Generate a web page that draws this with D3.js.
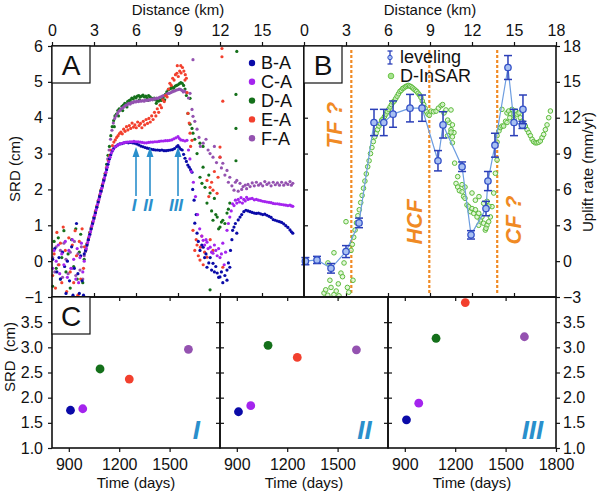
<!DOCTYPE html>
<html>
<head>
<meta charset="utf-8">
<script src="https://cdn.jsdelivr.net/npm/d3@7"></script>
<style>
  body { margin: 0; background: #fff; }
  svg text { font-family: "Liberation Sans", Arial, sans-serif; }
</style>
</head>
<body>
<svg id="chart" width="603" height="497"></svg>
<script>
// ---- panel A : SRD (cm) versus distance (km), one array per pair ----
const seriesNames = ["B-A", "C-A", "D-A", "E-A", "F-A"];
const seriesColors = ["#0a0aa8", "#a424ee", "#14701a", "#f2402e", "#9452b0"];

const srdBA = [[0.05,0.05],[0.2,0.35],[0.35,-0.3],[0.5,0.1],[0.6,-0.5],[0.75,0.25],[0.9,-0.15],[1.0,-0.9],[1.1,0.0],[1.25,-0.55],[1.4,0.4],[1.5,-0.95],[1.6,-0.2],[1.75,1.05],[1.85,-0.35],[1.95,-0.9],[2.05,0.15],[2.15,-0.55],[2.25,-0.95],[2.3,0.2],
  [2.4,0.3],[2.5,0.45],[2.6,0.6],[2.7,0.75],[2.8,0.9],[2.9,1.05],[3.0,1.2],[3.1,1.35],[3.2,1.5],[3.3,1.65],[3.4,1.8],[3.5,1.95],[3.6,2.1],[3.7,2.25],[3.8,2.4],[3.9,2.55],[4.0,2.7],[4.1,2.85],[4.2,2.97],[4.3,3.07],[4.4,3.14],[4.55,3.2],[4.7,3.24],[4.85,3.27],[5.0,3.28],[5.15,3.3],[5.3,3.31],[5.45,3.3],[5.6,3.31],[5.75,3.3],[5.9,3.29],[6.05,3.27],[6.2,3.24],
  [6.35,3.21],[6.5,3.19],[6.65,3.17],[6.8,3.15],[6.95,3.14],[7.1,3.12],[7.25,3.11],[7.4,3.1],[7.55,3.1],[7.7,3.09],[7.85,3.1],[8.0,3.08],[8.15,3.08],[8.3,3.09],[8.45,3.1],[8.6,3.11],[8.75,3.14],[8.9,3.19],[9.0,3.22],[9.1,3.17],[9.2,3.12],[9.3,3.1],[9.4,2.98],[9.5,2.87],
  [9.6,2.78],[9.7,2.68],[9.8,2.62],[9.9,2.55],[10.0,2.48],[10.05,2.0],[10.15,1.7],[10.2,1.06],[10.3,1.3],[10.36,0.78],[10.45,0.55],[10.57,0.3],[10.7,0.45],[10.8,0.39],[10.9,0.1],[11.0,0.2],[11.07,-0.17],[11.2,-0.05],[11.3,0.1],[11.4,-0.25],[11.5,-0.06],[11.6,-0.3],[11.7,-0.15],[11.8,-0.33],[11.9,-0.45],[12.0,-0.44],[12.1,-0.3],[12.2,-0.6],[12.35,-0.4],[12.5,-0.53],[12.5,-0.25],[12.6,-0.05],[12.7,-0.17],[12.75,0.3],[12.85,0.6],[12.9,0.86],[13.0,0.95],[13.1,1.05],[13.2,0.78],[13.3,1.15],[13.43,1.23],
  [13.55,1.3],[13.7,1.38],[13.85,1.42],[14.0,1.4],[14.15,1.38],[14.3,1.36],[14.45,1.34],[14.6,1.33],[14.75,1.34],[14.9,1.32],[15.05,1.3],[15.2,1.31],[15.35,1.28],[15.5,1.25],[15.65,1.22],[15.8,1.16],[15.95,1.14],[16.1,1.12],[16.25,1.1],[16.4,1.08],[16.55,1.04],[16.7,0.99],[16.85,0.94],[17.0,0.87],[17.1,0.82],[17.2,0.78]];

const srdCA = [[0.05,-0.2],[0.15,0.3],[0.3,0.0],[0.45,0.45],[0.55,-0.35],[0.7,0.2],[0.85,-0.1],[0.95,0.55],[1.1,-0.45],[1.2,0.3],[1.35,-0.2],[1.45,0.6],[1.55,0.05],[1.7,-0.5],[1.8,0.35],[1.9,-0.6],[2.0,0.1],[2.1,0.5],[2.2,-0.3],[2.3,0.0],
  [2.45,0.35],[2.55,0.52],[2.65,0.68],[2.75,0.82],[2.85,0.98],[2.95,1.12],[3.05,1.28],[3.15,1.43],[3.25,1.58],[3.35,1.72],[3.45,1.88],[3.55,2.03],[3.65,2.18],[3.75,2.32],[3.85,2.48],[3.95,2.62],[4.05,2.77],[4.15,2.9],[4.25,3.02],[4.35,3.1],[4.5,3.18],[4.65,3.22],[4.8,3.26],[4.95,3.28],
  [5.1,3.3],[5.25,3.31],[5.4,3.32],[5.55,3.33],[5.7,3.33],[5.85,3.34],[6.0,3.33],[6.15,3.33],[6.3,3.32],[6.45,3.31],[6.6,3.3],[6.75,3.3],[6.9,3.31],[7.05,3.32],[7.2,3.32],[7.35,3.33],[7.5,3.33],[7.65,3.34],[7.8,3.35],[7.95,3.35],[8.1,3.36],[8.25,3.36],[8.4,3.37],[8.55,3.38],[8.7,3.41],[8.85,3.44],[9.0,3.47],[9.1,3.42],[9.2,3.38],[9.35,3.37],[9.5,3.35],[9.64,3.37],
  [9.75,3.1],[9.85,2.85],[9.95,2.5],[10.1,2.2],[10.25,1.8],[10.4,1.3],[10.55,0.9],[10.7,0.7],[10.8,0.58],[10.9,0.45],[11.0,0.6],[11.07,0.53],[11.15,0.35],[11.3,0.39],[11.4,0.25],[11.5,0.22],[11.6,0.45],[11.7,0.3],[11.8,0.15],[11.9,0.35],[12.0,0.1],[12.1,0.2],[12.2,0.5],[12.3,-0.1],[12.4,0.25],[12.5,0.86],[12.6,1.05],[12.7,1.23],[12.8,1.4],[12.9,1.6],
  [13.0,1.55],[13.1,1.7],[13.2,1.62],[13.3,1.72],[13.4,1.65],[13.5,1.77],[13.6,1.62],[13.7,1.72],[13.8,1.68],[13.9,1.78],[14.0,1.72],[14.15,1.74],[14.3,1.75],[14.45,1.71],[14.6,1.72],[14.75,1.7],[14.9,1.69],[15.05,1.67],[15.2,1.66],[15.35,1.65],[15.5,1.64],[15.65,1.63],[15.8,1.61],[15.95,1.6],[16.1,1.6],[16.25,1.59],[16.4,1.58],[16.55,1.57],[16.7,1.56],[16.85,1.55],[17.0,1.56],[17.1,1.54],[17.2,1.53]];

const srdDA = [[0.05,-0.7],[0.15,0.55],[0.3,-0.2],[0.45,0.65],[0.6,-0.5],[0.7,0.1],[0.85,0.85],[1.0,-0.3],[1.15,0.2],[1.3,-0.75],[1.4,0.6],[1.55,-0.15],[1.7,0.9],[1.8,-0.5],[1.95,0.25],[2.05,0.75],[2.2,-0.6],[2.3,0.05],
  [2.4,0.28],[2.5,0.48],[2.6,0.62],[2.7,0.8],[2.8,0.93],[2.9,1.08],[3.0,1.22],[3.1,1.38],[3.2,1.52],[3.3,1.68],[3.4,1.82],[3.5,1.98],[3.6,2.12],[3.7,2.28],[3.8,2.45],[3.9,2.7],[4.0,2.95],[4.1,3.2],[4.2,3.5],[4.3,3.75],[4.4,3.92],[4.5,4.05],[4.6,4.1],[4.7,4.2],[4.8,4.25],[4.9,4.22],[5.0,4.32],[5.1,4.35],[5.2,4.4],[5.3,4.38],[5.4,4.45],[5.5,4.48],[5.6,4.5],[5.7,4.55],[5.8,4.52],[5.9,4.58],[6.0,4.55],[6.1,4.6],[6.2,4.62],[6.3,4.58],[6.4,4.6],[6.5,4.63],[6.6,4.58],[6.7,4.6],[6.8,4.55],[6.9,4.62],[7.0,4.58],[7.1,4.55],[7.2,4.52],[7.3,4.55],[7.4,4.5],[7.5,4.48],[7.6,4.46],[7.7,4.5],[7.8,4.48],[7.9,4.55],[8.0,4.6],[8.1,4.65],[8.2,4.72],[8.3,4.78],[8.4,4.8],[8.5,4.82],[8.6,4.85],[8.7,4.83],[8.8,4.88],[8.9,4.9],[9.0,4.92],[9.1,4.95],[9.2,4.98],[9.3,4.96],[9.4,4.9],
  [4.45,3.75],[4.75,4.05],[5.05,4.2],[5.35,4.3],[5.65,4.42],[6.25,4.5],[6.85,4.48],[7.45,4.4],[8.05,4.5],[8.65,4.75],
  [9.5,4.8],[9.6,4.62],[9.71,4.12],[9.86,4.54],[9.86,3.82],[10.0,3.7],[10.07,3.57],[10.2,3.4],[10.36,3.0],[10.57,3.29],[10.57,2.34],[10.71,2.17],[10.79,3.2],[10.79,2.62],[10.93,2.06],[11.07,1.62],[11.2,2.4],[11.29,1.9],[11.4,1.4],[11.5,1.14],[11.6,1.75],[11.7,1.3],[11.8,1.23],[11.9,0.9],[12.0,0.95],[12.1,1.09],[12.2,1.14],[12.35,1.05],[12.5,1.34],[12.6,1.45],[12.7,1.62],[11.29,-0.8],[13.14,2.8],[13.14,3.7],[13.14,4.65],[13.2,5.85]];

const srdEA = [[0.05,-0.4],[0.15,0.2],[0.25,-0.75],[0.35,0.8],[0.5,-0.1],[0.6,0.5],[0.7,-0.6],[0.8,0.95],[0.95,0.3],[1.05,-0.85],[1.2,0.65],[1.3,-0.3],[1.45,0.45],[1.55,-0.6],[1.65,0.85],[1.75,0.15],[1.85,-0.95],[1.95,0.55],[2.05,-0.5],[2.15,0.9],[2.25,-0.2],[2.32,0.4],
  [2.42,0.32],[2.52,0.5],[2.62,0.65],[2.72,0.8],[2.82,0.96],[2.92,1.1],[3.02,1.25],[3.12,1.4],[3.22,1.55],[3.32,1.7],[3.42,1.85],[3.52,2.0],[3.62,2.15],[3.72,2.3],[3.82,2.45],[3.92,2.62],[4.02,2.8],[4.12,2.95],[4.22,3.1],[4.32,3.22],[4.42,3.32],[4.52,3.38],[4.62,3.45],[4.72,3.5],[4.82,3.56],[4.92,3.6],[5.02,3.55],[5.12,3.68],[5.22,3.62],[5.32,3.75],[5.42,3.66],[5.52,3.78],[5.62,3.7],[5.72,3.85],[5.82,3.74],[5.92,3.8],[6.02,3.72],[6.12,3.88],[6.22,3.78],[6.32,3.84],[6.42,3.72],[6.52,3.9],[6.62,3.8],[6.72,3.95],[6.82,3.84],[6.92,3.98],[7.02,3.88],[7.12,4.05],[7.22,3.95],[7.32,4.15],[7.42,4.05],[7.52,4.25],[7.62,4.15],[7.72,4.35],[7.82,4.28],[7.92,4.5],[8.02,4.45],[8.12,4.62],[8.22,4.58],[8.32,4.8],[8.42,4.96],[8.52,4.9],[8.62,5.1],[8.72,5.05],[8.82,5.2],[8.92,5.24],[9.02,5.15],[9.12,5.3],[9.22,5.25],[9.32,5.4],[9.42,5.3],[9.52,5.2],[9.6,5.1],[8.95,5.45],[9.2,5.45],[9.5,5.05],
  [9.65,4.7],[9.71,4.12],[9.8,3.85],[9.86,3.57],[9.9,3.2],[10.0,3.37],[10.07,0.86],[10.2,0.3],[10.3,0.6],[10.36,0.45],[10.45,0.15],[10.57,0.03],[10.6,0.39],[10.8,-0.1],[10.9,0.25],[11.07,0.11],[11.07,2.25],[11.2,1.8],[11.29,2.06],[11.4,2.2],[11.5,1.98],[11.5,0.3],[11.6,2.5],[11.79,1.89],[11.86,2.34],[12.0,2.9],[12.0,3.18],[12.2,-0.17],[12.14,5.93],[12.14,5.7],[12.2,4.46],[11.3,0.6],[10.7,0.7]];

const srdFA = [[0.05,0.1],[0.2,-0.3],[0.3,0.4],[0.45,-0.1],[0.6,0.3],[0.75,-0.45],[0.85,0.5],[1.0,0.05],[1.15,-0.35],[1.3,0.25],[1.45,-0.2],[1.6,0.55],[1.7,-0.4],[1.85,0.2],[2.0,-0.25],[2.1,0.4],[2.2,-0.5],[2.3,0.15],
  [2.38,0.26],[2.48,0.42],[2.58,0.58],[2.68,0.72],[2.78,0.88],[2.88,1.03],[2.98,1.17],[3.08,1.32],[3.18,1.48],[3.28,1.62],[3.38,1.77],[3.48,1.92],[3.58,2.06],[3.68,2.22],[3.78,2.38],[3.88,2.6],[3.98,2.85],[4.08,3.1],[4.18,3.4],[4.28,3.65],[4.38,3.85],[4.48,3.98],[4.58,4.05],[4.68,4.12],[4.78,4.18],[4.88,4.22],[4.98,4.26],[5.08,4.28],[5.18,4.32],[5.28,4.35],[5.38,4.36],[5.48,4.4],[5.58,4.38],[5.68,4.42],[5.78,4.42],[5.88,4.45],[5.98,4.44],[6.08,4.46],[6.18,4.45],[6.28,4.47],[6.38,4.46],[6.48,4.48],[6.58,4.46],[6.68,4.5],[6.78,4.48],[6.88,4.5],[6.98,4.49],[7.08,4.52],[7.18,4.5],[7.28,4.53],[7.38,4.52],[7.48,4.55],[7.58,4.54],[7.68,4.57],[7.78,4.58],[7.88,4.6],[7.98,4.62],[8.08,4.62],[8.18,4.65],[8.28,4.68],[8.38,4.68],[8.48,4.7],[8.58,4.72],[8.68,4.74],[8.78,4.75],[8.88,4.77],[8.98,4.78],[9.08,4.8],[9.18,4.79],[9.28,4.76],[9.38,4.72],[9.48,4.74],[9.6,4.7],
  [9.86,4.68],[9.75,4.55],[10.0,4.23],[10.07,4.04],[10.07,5.62],[10.2,3.9],[10.36,3.68],[10.5,3.45],[10.6,3.2],[10.8,3.29],[11.0,3.4],[11.15,3.1],[11.29,3.0],[11.5,2.9],[11.6,3.2],[11.75,2.75],[12.0,2.9],[12.1,2.6],[12.2,2.73],[12.35,2.4],[12.5,2.53],[12.6,2.2],[12.7,2.34],[12.85,2.1],[13.0,1.98],[13.1,2.2],[13.2,2.25],
  [13.3,1.95],[13.43,2.17],[13.55,2.0],[13.65,2.08],[13.8,2.12],[13.9,2.02],[14.0,2.14],[14.15,2.08],[14.3,2.18],[14.45,2.1],[14.6,2.2],[14.75,2.12],[14.9,2.16],[15.05,2.1],[15.2,2.22],[15.35,2.14],[15.5,2.18],[15.65,2.1],[15.8,2.2],[15.95,2.13],[16.1,2.18],[16.25,2.12],[16.4,2.2],[16.55,2.12],[16.7,2.18],[16.85,2.14],[17.0,2.22],[17.1,2.12],[17.2,2.17]];

const arrowKm = [6.0, 7.0, 9.0];
const romans = ["I", "II", "III"];

// ---- panel B : uplift rate (mm/yr) ----
// leveling: [km, rate, error]
const leveling = [[0.1,0.0,0.3],[0.93,0.1,0.3],[1.93,-0.6,0.4],[3.0,0.8,0.5],[3.93,3.2,0.4],[5.0,11.6,1.1],[5.7,11.6,1.1],[6.36,12.3,1.1],[7.57,12.8,1.15],[8.43,12.8,1.1],[9.57,8.4,0.85],[9.93,11.4,1.1],[11.29,7.9,0.4],[11.93,2.2,0.35],[13.0,4.4,0.6],[13.14,6.7,0.8],[13.64,9.7,1.0],[14.57,16.2,1.0],[15.0,11.6,1.1],[15.6,11.4,0.3],[15.64,12.7,1.2]];

const insar = [[1.43,-2.67],[1.55,-2.4],[1.7,-2.85],[1.93,-2.2],[2.14,-2.8],[2.3,-2.5],[2.5,-2.9],[2.64,-1.0],[2.75,-1.3],[2.86,-0.15],[2.14,0.7],[1.71,-0.15],[3.0,3.3],[3.2,-2.6],[3.5,-1.6],[2.45,-1.9],[1.85,-1.6],[3.1,-2.2],
  [3.36,0.9],[3.45,1.4],[3.55,2.0],[3.65,2.6],[3.75,3.2],[3.85,3.8],[3.95,4.3],[4.05,4.9],[4.15,5.5],[4.25,6.1],[4.35,6.7],[4.45,7.3],[4.55,7.9],[4.65,8.4],[4.75,9.0],[4.85,9.5],[4.95,10.0],[5.05,10.4],[5.15,10.7],[5.25,11.0],[5.35,11.3],[5.45,11.5],[5.55,11.8],[5.65,11.9],[5.75,12.1],[5.85,12.3],[5.95,12.5],[6.05,12.7],[6.15,12.9],[6.25,13.1],[6.35,13.3],[6.45,13.4],[6.55,13.6],[6.65,13.8],[6.75,14.0],[6.85,14.2],[6.95,14.3],[7.05,14.45],[7.15,14.5],[7.25,14.6],[7.35,14.65],[7.45,14.7],[7.55,14.65],[7.65,14.6],[7.75,14.5],[7.85,14.4],[7.95,14.3],[8.05,14.2],[8.15,14.05],[8.25,13.9],[8.35,13.7],[8.45,13.4],[8.55,13.1],[8.65,12.8],[8.75,12.5],[8.85,12.3],[8.95,12.2],
  [9.07,12.55],[9.25,12.5],[9.43,12.55],[9.6,12.8],[9.79,13.0],[9.9,13.1],[10.0,12.4],[10.14,12.65],[10.5,12.65],[10.36,11.6],[10.26,11.8],[10.5,11.0],[10.26,10.5],[10.71,10.75],[10.6,9.9],[10.6,11.4],[10.5,10.8],[10.6,10.4],
  [10.76,8.2],[10.86,6.5],[10.98,6.2],[11.1,5.9],[11.29,5.8],[11.4,5.4],[11.5,5.26],[11.64,4.7],[11.76,4.56],[11.88,4.14],[12.0,4.4],[12.12,4.0],[12.24,4.3],[12.36,3.7],[12.48,4.0],[12.6,3.45],[12.71,3.7],[12.83,3.17],[12.95,2.6],[13.07,3.0],[13.19,3.3],[13.31,3.7],[13.43,4.56],[13.55,5.7],[13.67,7.35],[13.79,8.46],
  [10.98,7.07],[11.29,6.4],[11.5,6.2],[12.0,5.7],[12.24,5.1],[12.5,5.4],[12.83,4.84],[13.07,5.0],[13.2,4.6],[12.48,3.0],[13.0,2.75],
  [13.79,10.5],[13.93,10.9],[14.02,11.17],[14.14,11.3],[14.26,11.3],[14.4,11.7],[14.5,12.4],[14.62,12.56],[14.76,12.3],[14.86,12.7],[15.0,12.3],[15.1,12.55],[15.21,12.3],[15.36,12.4],[15.45,12.0],[15.57,11.7],[15.7,11.4],[15.81,11.3],[15.93,11.0],[16.05,10.75],[16.17,10.5],[16.29,10.2],[16.4,10.0],[16.52,9.9],[16.64,9.9],[16.76,9.95],[16.88,10.05],[17.0,10.33],[17.12,10.6],[17.24,11.0],[17.36,11.4],[17.48,12.0],[17.6,12.56],
  [14.14,12.7],[14.5,11.6],[14.7,12.0],[13.79,9.96],[15.0,11.9]];

const faultKm = [3.38, 8.95, 13.8];
const faultNames = ["TF ?", "HCF", "CF ?"];

// ---- panel C : SRD at arrows I, II, III versus time (days) ----
const cDays = [910, 983, 1086, 1260, 1612];
const srdI = [1.75, 1.78, 2.57, 2.37, 2.96];
const srdII = [1.72, 1.84, 3.04, 2.80, 2.95];
const srdIII = [1.56, 1.89, 3.18, 3.89, 3.21];

// ---------------------------------------------------------------
const svg = d3.select("#chart");
const FONT = '"Liberation Sans", Arial, sans-serif';
const top0 = 46, mid = 297, bot = 448;
const ink = "#111";
const cyan = "#2a8fcc";
const orange = "#f08a24";

const xA = d3.scaleLinear().domain([0, 18]).range([52, 304]);
const yA = d3.scaleLinear().domain([-1, 6]).range([mid, top0]);
const xB = d3.scaleLinear().domain([0, 18]).range([304, 556]);
const yB = d3.scaleLinear().domain([-3, 18]).range([mid, top0]);
const yC = d3.scaleLinear().domain([1, 4]).range([bot, mid]);
const cEdges = [52, 220, 388, 556];

function styleAxis(g, size) {
  g.attr("font-family", FONT).attr("font-size", size || 16);
  g.select(".domain").remove();
  g.selectAll(".tick line").attr("stroke", ink).attr("stroke-width", 1.2);
  g.selectAll(".tick text").attr("fill", ink);
}

// ---- panel A ----
svg.append("g").attr("transform", `translate(0,${top0})`)
  .call(d3.axisTop(xA).tickValues([0, 3, 6, 9, 12, 15]).tickSize(4).tickPadding(6))
  .call(styleAxis);
svg.append("g").attr("transform", `translate(52,0)`)
  .call(d3.axisLeft(yA).ticks(8).tickSize(4).tickPadding(5))
  .call(styleAxis);
svg.append("g").attr("transform", `translate(0,${mid})`)
  .call(d3.axisBottom(xA).tickValues([3, 6, 9, 12, 15]).tickSize(-4).tickFormat(""))
  .call(styleAxis);

svg.append("text").attr("x", xA(9)).attr("y", 15).attr("text-anchor", "middle")
  .attr("font-size", 15).attr("fill", ink).text("Distance (km)");
svg.append("text").attr("transform", "translate(20,169) rotate(-90)")
  .attr("text-anchor", "middle").attr("font-size", 15).attr("fill", ink).text("SRD (cm)");

const allSrd = [srdBA, srdCA, srdDA, srdEA, srdFA];
const drawOrder = [2, 4, 3, 0, 1];
const gA = svg.append("g");
drawOrder.forEach(i => {
  gA.append("g").selectAll("circle").data(allSrd[i]).join("circle")
    .attr("cx", d => xA(d[0])).attr("cy", d => yA(d[1]))
    .attr("r", 1.6).attr("fill", seriesColors[i]);
});

// arrows I II III
const gArr = svg.append("g");
arrowKm.forEach((k, i) => {
  const x = xA(k);
  gArr.append("line").attr("x1", x).attr("x2", x).attr("y1", 196).attr("y2", 155)
    .attr("stroke", cyan).attr("stroke-width", 1.6);
  gArr.append("path").attr("d", `M${x - 3.5},157 L${x},147 L${x + 3.5},157 Z`).attr("fill", cyan);
  gArr.append("text").attr("x", x - 2).attr("y", 211).attr("text-anchor", "middle")
    .attr("font-size", 17).attr("font-style", "italic").attr("font-weight", "bold")
    .attr("fill", cyan).text(romans[i]);
});

// legend A
const legA = svg.append("g");
seriesNames.forEach((n, i) => {
  const y = 63 + i * 18.8;
  legA.append("circle").attr("cx", 252).attr("cy", y).attr("r", 3.2).attr("fill", seriesColors[i]);
  legA.append("text").attr("x", 261).attr("y", y).attr("dy", "0.36em")
    .attr("font-size", 18).attr("fill", ink).text(n);
});

// ---- panel B ----
svg.append("g").attr("transform", `translate(0,${top0})`)
  .call(d3.axisTop(xB).tickValues(d3.range(0, 19, 3)).tickSize(4).tickPadding(6))
  .call(styleAxis);
svg.append("g").attr("transform", `translate(556,0)`)
  .call(d3.axisRight(yB).tickValues(d3.range(-3, 19, 3)).tickSize(4).tickPadding(3))
  .call(styleAxis);
svg.append("g").attr("transform", `translate(304,0)`)
  .call(d3.axisRight(yB).tickValues(d3.range(0, 18, 3)).tickSize(4).tickFormat(""))
  .call(styleAxis);
svg.append("g").attr("transform", `translate(0,${mid})`)
  .call(d3.axisBottom(xB).tickValues([3, 6, 9, 12, 15]).tickSize(-4).tickFormat(""))
  .call(styleAxis);

svg.append("text").attr("x", xB(9)).attr("y", 15).attr("text-anchor", "middle")
  .attr("font-size", 15).attr("fill", ink).text("Distance (km)");
svg.append("text").attr("transform", "translate(593,172) rotate(-90)")
  .attr("text-anchor", "middle").attr("font-size", 15).attr("fill", ink).text("Uplift rate (mm/yr)");

// fault lines
faultKm.forEach(k => {
  svg.append("line").attr("x1", xB(k)).attr("x2", xB(k)).attr("y1", 50).attr("y2", 293)
    .attr("stroke", orange).attr("stroke-width", 2.2).attr("stroke-dasharray", "3,2");
});
const faultLab = [[342, 125], [422, 222], [521, 220]];
faultNames.forEach((n, i) => {
  svg.append("text").attr("transform", `translate(${faultLab[i][0]},${faultLab[i][1]}) rotate(-90)`)
    .attr("text-anchor", "middle").attr("font-size", 22).attr("font-weight", "bold")
    .attr("font-style", "italic").attr("fill", orange).text(n);
});

// D-InSAR
svg.append("g").selectAll("circle").data(insar).join("circle")
  .attr("cx", d => xB(d[0])).attr("cy", d => yB(d[1])).attr("r", 2.3)
  .attr("fill", "#d9f3cc").attr("fill-opacity", 0.7)
  .attr("stroke", "#5cbb3c").attr("stroke-width", 1);

// leveling
const levColor = "#2b3fb8";
svg.append("path").datum(leveling)
  .attr("d", d3.line().x(d => xB(d[0])).y(d => yB(d[1])))
  .attr("fill", "none").attr("stroke", "#6d9de0").attr("stroke-width", 1.2);
const gLev = svg.append("g").selectAll("g").data(leveling).join("g");
gLev.append("line").attr("x1", d => xB(d[0])).attr("x2", d => xB(d[0]))
  .attr("y1", d => yB(d[1] - d[2])).attr("y2", d => yB(d[1] + d[2]))
  .attr("stroke", levColor).attr("stroke-width", 1.5);
[-1, 1].forEach(s => {
  gLev.append("line").attr("x1", d => xB(d[0]) - 4).attr("x2", d => xB(d[0]) + 4)
    .attr("y1", d => yB(d[1] + s * d[2])).attr("y2", d => yB(d[1] + s * d[2]))
    .attr("stroke", levColor).attr("stroke-width", 1.5);
});
gLev.append("circle").attr("cx", d => xB(d[0])).attr("cy", d => yB(d[1])).attr("r", 3.2)
  .attr("fill", "#a8c0f2").attr("stroke", "#3552c8").attr("stroke-width", 1.3);

// legend B
svg.append("line").attr("x1", 390).attr("x2", 390).attr("y1", 51).attr("y2", 64).attr("stroke", levColor).attr("stroke-width", 1.3);
svg.append("line").attr("x1", 387.5).attr("x2", 392.5).attr("y1", 51).attr("y2", 51).attr("stroke", levColor).attr("stroke-width", 1.3);
svg.append("line").attr("x1", 387.5).attr("x2", 392.5).attr("y1", 64).attr("y2", 64).attr("stroke", levColor).attr("stroke-width", 1.3);
svg.append("circle").attr("cx", 390).attr("cy", 57.5).attr("r", 2.2).attr("fill", "#a8c0f2").attr("stroke", "#3552c8");
svg.append("text").attr("x", 400).attr("y", 57).attr("dy", "0.36em").attr("font-size", 18).attr("fill", ink).text("leveling");
svg.append("circle").attr("cx", 391).attr("cy", 76).attr("r", 2.8).attr("fill", "#a6e28f").attr("stroke", "#6cc54a");
svg.append("text").attr("x", 400).attr("y", 75.5).attr("dy", "0.36em").attr("font-size", 18).attr("fill", ink).text("D-InSAR");

// ---- panel C ----
const cSets = [srdI, srdII, srdIII];
cSets.forEach((vals, p) => {
  const xC = d3.scaleLinear().domain([800, 1800]).range([cEdges[p], cEdges[p + 1]]);
  const ticks = p < 2 ? [900, 1200, 1500] : [900, 1200, 1500, 1800];
  svg.append("g").attr("transform", `translate(0,${bot})`)
    .call(d3.axisBottom(xC).tickValues(ticks).tickSize(4).tickPadding(7).tickFormat(d3.format("d")))
    .call(styleAxis);
  svg.append("g").attr("transform", `translate(0,${mid})`)
    .call(d3.axisTop(xC).tickValues([900, 1200, 1500]).tickSize(-4).tickFormat(""))
    .call(styleAxis);
  svg.append("text").attr("x", xC(1300)).attr("y", 488).attr("text-anchor", "middle")
    .attr("font-size", 15).attr("fill", ink).text("Time (days)");

  svg.append("g").selectAll("circle").data(vals).join("circle")
    .attr("cx", (d, i) => xC(cDays[i])).attr("cy", d => yC(d)).attr("r", 4.4)
    .attr("fill", (d, i) => seriesColors[i]);

  svg.append("text").attr("x", xC(1660)).attr("y", 439).attr("text-anchor", "middle")
    .attr("font-size", 26).attr("font-style", "italic").attr("font-weight", "bold")
    .attr("fill", cyan).text(romans[p]);
});

const cTicks = [1.5, 2.0, 2.5, 3.0, 3.5];
svg.append("g").attr("transform", `translate(52,0)`)
  .call(d3.axisLeft(yC).tickValues([1.0, 1.5, 2.0, 2.5, 3.0, 3.5]).tickSize(4).tickPadding(5).tickFormat(d3.format(".1f")))
  .call(styleAxis);
svg.append("g").attr("transform", `translate(556,0)`)
  .call(d3.axisRight(yC).tickValues([1.0, 1.5, 2.0, 2.5, 3.0, 3.5]).tickSize(4).tickPadding(3).tickFormat(d3.format(".1f")))
  .call(styleAxis);
[220, 388].forEach(x => {
  svg.append("g").attr("transform", `translate(${x},0)`)
    .call(d3.axisLeft(yC).tickValues(cTicks).tickSize(4).tickFormat("")).call(styleAxis);
  svg.append("g").attr("transform", `translate(${x},0)`)
    .call(d3.axisRight(yC).tickValues(cTicks).tickSize(4).tickFormat("")).call(styleAxis);
});
svg.append("text").attr("transform", "translate(15,357) rotate(-90)")
  .attr("text-anchor", "middle").attr("font-size", 15).attr("fill", ink)
  .style("white-space", "pre").text("SRD  (cm)");

// ---- frames and panel letters ----
const frames = [[52, top0, 304, mid], [304, top0, 556, mid], [52, mid, 220, bot], [220, mid, 388, bot], [388, mid, 556, bot]];
frames.forEach(f => {
  svg.append("rect").attr("x", f[0]).attr("y", f[1]).attr("width", f[2] - f[0]).attr("height", f[3] - f[1])
    .attr("fill", "none").attr("stroke", ink).attr("stroke-width", 1.6);
});
[["A", 52, top0], ["B", 304, top0], ["C", 52, mid]].forEach(l => {
  svg.append("rect").attr("x", l[1]).attr("y", l[2]).attr("width", 38).attr("height", 37)
    .attr("fill", "#fff").attr("stroke", ink).attr("stroke-width", 1.2);
  svg.append("text").attr("x", l[1] + 19).attr("y", l[2] + 29).attr("text-anchor", "middle")
    .attr("font-size", 28).attr("fill", ink).text(l[0]);
});
</script>
</body>
</html>
